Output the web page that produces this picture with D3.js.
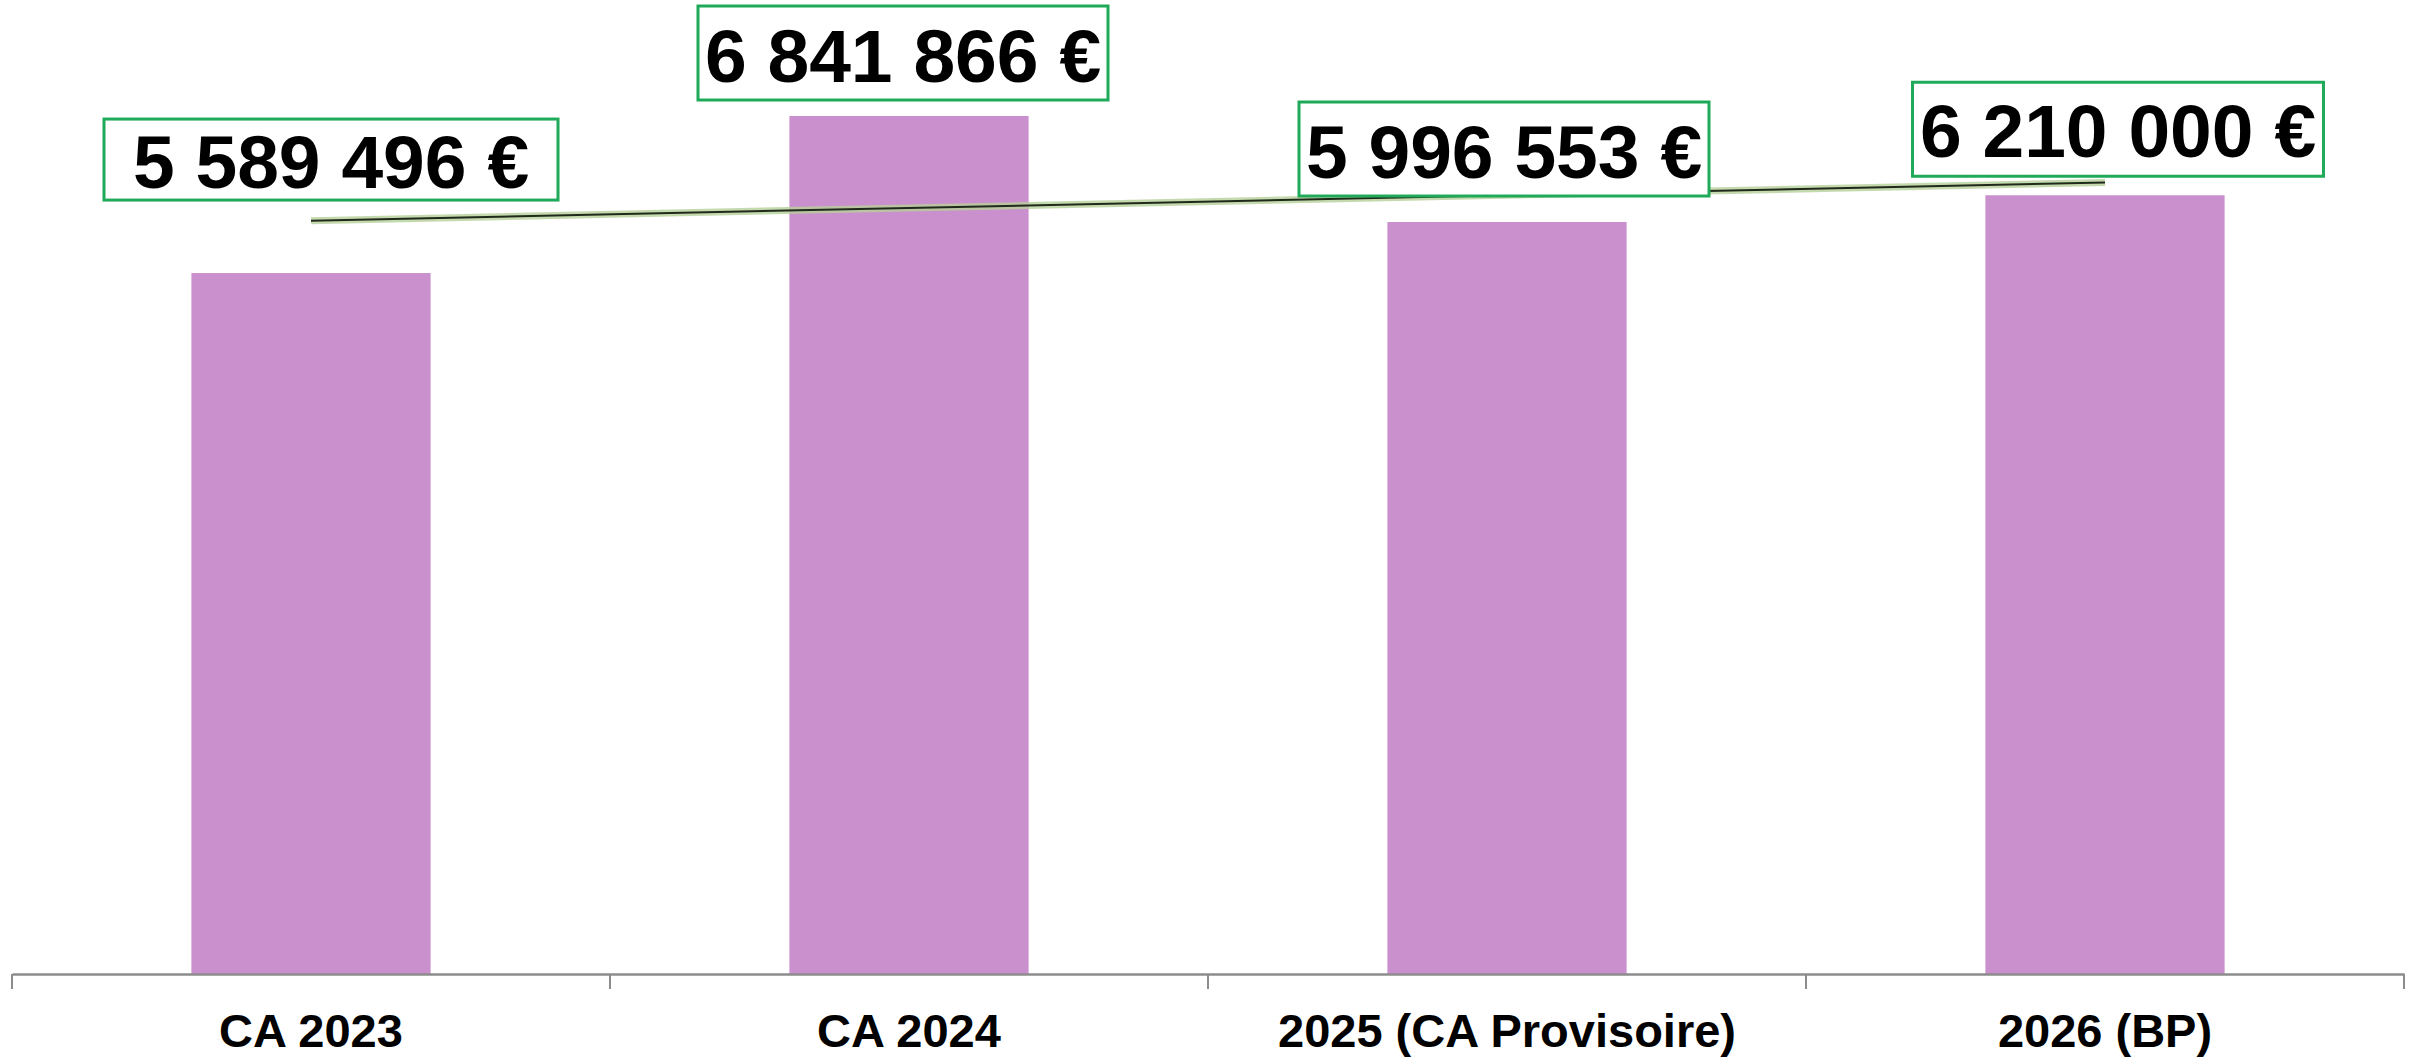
<!DOCTYPE html>
<html>
<head>
<meta charset="utf-8">
<script src="https://cdn.jsdelivr.net/npm/d3@7"></script>
<style>
  body { margin: 0; background: #fff; }
  svg { display: block; font-family: "Liberation Sans", Arial, sans-serif; }
</style>
</head>
<body>
<div id="chart"></div>
<script>
// data
const categories = ["CA 2023", "CA 2024", "2025 (CA Provisoire)", "2026 (BP)"];
const values = [5589496, 6841866, 5996553, 6210000];

// label box placement (relative to bar centre / bar top)
const labelDx = [20, -6, -3, 13];
const labelDy = [-73, -16, -26, -19];
const labelW = [454, 410, 410, 411];
const labelH = [81, 94, 94, 94];
const labelBase = [12, 18, 18, 19];

const W = 2415, H = 1058;
const axisY = 974;

const svg = d3.select("#chart")
    .append("svg")
    .attr("width", W)
    .attr("height", H);

const x = d3.scaleBand()
    .domain(categories)
    .range([12, 2404])
    .padding(0);

const y = d3.scaleLinear()
    .domain([0, 7767000])
    .range([axisY, 0]);

const barW = x.bandwidth() * 0.4;
const cx = d => x(d) + x.bandwidth() / 2;

// bars
svg.selectAll("rect.bar")
    .data(values)
    .join("rect")
    .attr("class", "bar")
    .attr("x", (d, i) => cx(categories[i]) - barW / 2)
    .attr("y", d => y(d))
    .attr("width", barW)
    .attr("height", d => axisY - y(d))
    .attr("fill", "#ca8fcd");

// x axis
const xAxis = svg.append("g")
    .attr("transform", `translate(0,${axisY})`)
    .call(d3.axisBottom(x).tickSize(0).tickSizeOuter(0).tickFormat(""));
xAxis.select(".domain").attr("stroke", "#8c8c8c").attr("stroke-width", 2.5);

// band boundary ticks
const bounds = categories.map(c => x(c)).concat([x.range()[1]]);
svg.selectAll("line.tick")
    .data(bounds)
    .join("line")
    .attr("class", "tick")
    .attr("x1", d => d).attr("x2", d => d)
    .attr("y1", axisY).attr("y2", axisY + 15)
    .attr("stroke", "#8c8c8c")
    .attr("stroke-width", 2);

svg.selectAll("text.cat")
    .data(categories)
    .join("text")
    .attr("class", "cat")
    .attr("x", d => cx(d))
    .attr("y", 1047)
    .attr("text-anchor", "middle")
    .attr("font-size", 47)
    .attr("font-weight", "bold")
    .attr("fill", "#000")
    .text(d => d);

// linear trend line (least squares over the bars)
const n = values.length;
const xs = d3.range(n);
const mx = d3.mean(xs), my = d3.mean(values);
const slope = d3.sum(xs, i => (i - mx) * (values[i] - my)) / d3.sum(xs, i => (i - mx) ** 2);
const icpt = my - slope * mx;
const trend = [0, n - 1].map(i => [cx(categories[i]), y(icpt + slope * i)]);

const tline = d3.line();
svg.append("path")
    .attr("d", tline(trend))
    .attr("stroke", "#b7d09a")
    .attr("stroke-opacity", 0.8)
    .attr("stroke-width", 7)
    .attr("fill", "none");
svg.append("path")
    .attr("d", tline(trend))
    .attr("stroke", "#1f2a1a")
    .attr("stroke-width", 2)
    .attr("fill", "none");

// value labels
const fr = d3.formatLocale({decimal: ",", thousands: " ", grouping: [3], currency: ["", " €"]});
const fmt = v => fr.format(",.0f")(v) + " €";

const labels = svg.selectAll("g.lbl")
    .data(values)
    .join("g")
    .attr("class", "lbl")
    .attr("transform", (d, i) => `translate(${cx(categories[i]) + labelDx[i]},${y(d) + labelDy[i]})`);

labels.append("rect")
    .attr("x", (d, i) => -labelW[i] / 2)
    .attr("y", (d, i) => -labelH[i])
    .attr("width", (d, i) => labelW[i])
    .attr("height", (d, i) => labelH[i])
    .attr("fill", "#fff")
    .attr("stroke", "#1faa59")
    .attr("stroke-width", 3);

labels.append("text")
    .attr("x", 0)
    .attr("y", (d, i) => -labelBase[i])
    .attr("text-anchor", "middle")
    .attr("font-size", 75)
    .attr("font-weight", "bold")
    .attr("fill", "#000")
    .text(d => fmt(d));
</script>
</body>
</html>
